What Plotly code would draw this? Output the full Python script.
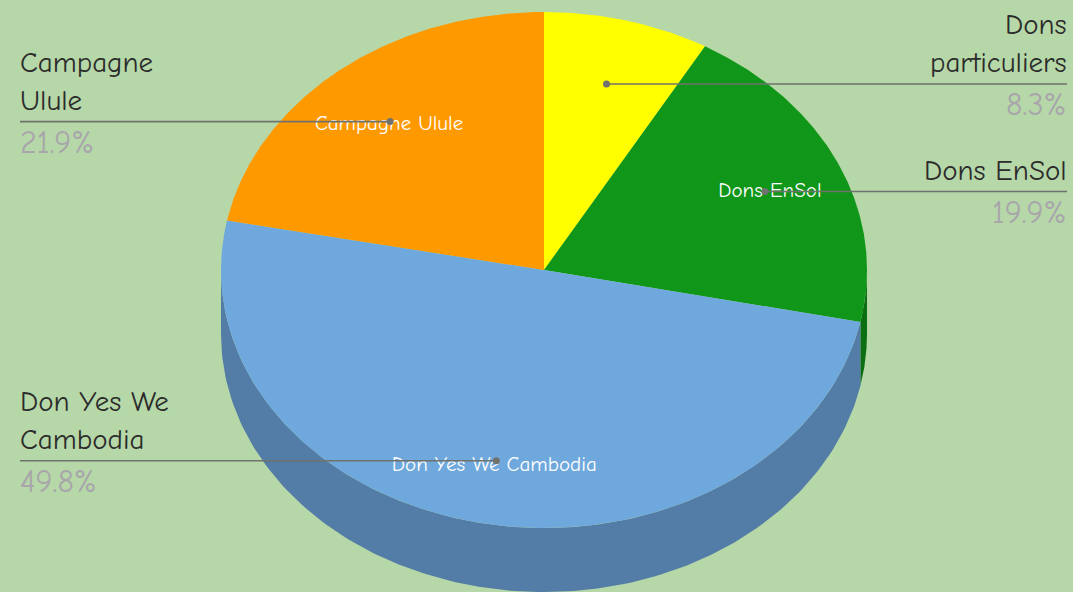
import numpy as np
import plotly.graph_objects as go

categories = ["Dons particuliers", "Dons EnSol", "Don Yes We Cambodia", "Campagne Ulule"]
values = [8.3, 19.9, 49.8, 21.9]
outer_labels = ["Dons<br>particuliers", "Dons EnSol", "Don Yes We<br>Cambodia", "Campagne<br>Ulule"]
top_colors = ["#ffff00", "#109618", "#6fa8dc", "#ff9900"]
side_colors = ["#b3b300", "#0b6f12", "#537da6", "#b36b00"]
inner_shown = [False, True, True, True]

W, H = 1073, 592
CX, CY, RX, RY, DEPTH = 544, 270, 323, 258, 64
FONT = "Comic Sans MS, Comic Neue, Lato, sans-serif"
BG = "#b6d7a8"

def pt(deg, r=1.0, dy=0.0):
    a = np.radians(deg)
    return CX + RX * r * np.sin(a), CY - RY * r * np.cos(a) + dy

total = sum(values)
edges = np.cumsum([0] + values) / total * 360
fig = go.Figure()

# side wall: only the near half of the rim (90 to 270 degrees) is visible
for i, c in enumerate(side_colors):
    a0, a1 = max(edges[i], 90), min(edges[i + 1], 270)
    if a1 <= a0:
        continue
    t = np.linspace(a0, a1, 160)
    x1, y1 = pt(t)
    x2, y2 = pt(t[::-1], dy=DEPTH)
    fig.add_trace(go.Scatter(x=np.r_[x1, x2], y=np.r_[y1, y2], fill="toself", fillcolor=c,
                             mode="lines", line=dict(width=0), hoverinfo="skip", showlegend=False))

# top face
for i, c in enumerate(top_colors):
    t = np.linspace(edges[i], edges[i + 1], 240)
    x, y = pt(t)
    fig.add_trace(go.Scatter(x=np.r_[CX, x, CX], y=np.r_[CY, y, CY], fill="toself", fillcolor=c,
                             mode="lines", line=dict(width=0), name=categories[i],
                             hoverinfo="skip", showlegend=False))

# labels inside slices
mids = (edges[:-1] + edges[1:]) / 2
dots = [pt(m, 0.75, dy=1) for m in mids]
inner_dx = [0, 5, -2, -1]
inner_dy = [0, 0, 5, 3]
for i, cat in enumerate(categories):
    if inner_shown[i]:
        fig.add_trace(go.Scatter(x=[dots[i][0] + inner_dx[i]], y=[dots[i][1] + inner_dy[i]], mode="text",
                                 text=[cat], textposition="middle center",
                                 textfont=dict(family=FONT, size=21, color="#ffffff"),
                                 hoverinfo="skip", showlegend=False))

# leader lines, dots and outer labels
for i, cat in enumerate(categories):
    dx, dy = dots[i]
    right = dx >= CX
    end = W - 6 if right else 20
    fig.add_trace(go.Scatter(x=[dx, end], y=[dy, dy], mode="lines",
                             line=dict(color="#6f726d", width=1.6), hoverinfo="skip", showlegend=False))
    fig.add_trace(go.Scatter(x=[dx], y=[dy], mode="markers",
                             marker=dict(color="#6f726d", size=7), hoverinfo="skip", showlegend=False))
    fig.add_annotation(x=end, y=dy, text=outer_labels[i], showarrow=False,
                       xanchor="right" if right else "left", yanchor="bottom", align="right" if right else "left",
                       font=dict(family=FONT, size=29, color="#2b2b2b"), yshift=5, xshift=0,
                       borderpad=0, borderwidth=0)
    fig.add_annotation(x=end, y=dy, text=f"{values[i]}%", showarrow=False,
                       xanchor="right" if right else "left", yanchor="top", align="right" if right else "left",
                       font=dict(family=FONT, size=32, color="#a8a5ab"), yshift=-2, xshift=0,
                       borderpad=0, borderwidth=0)

axis = dict(visible=False, fixedrange=True)
fig.update_layout(width=W, height=H, margin=dict(l=0, r=0, t=0, b=0), paper_bgcolor=BG, plot_bgcolor=BG,
                  xaxis=dict(range=[0, W], **axis), yaxis=dict(range=[H, 0], **axis), showlegend=False)
fig.write_html("out.html", config={"displayModeBar": False},
               post_script="document.body.style.margin='0';document.body.style.background='%s';document.documentElement.style.overflow='hidden';" % BG)
